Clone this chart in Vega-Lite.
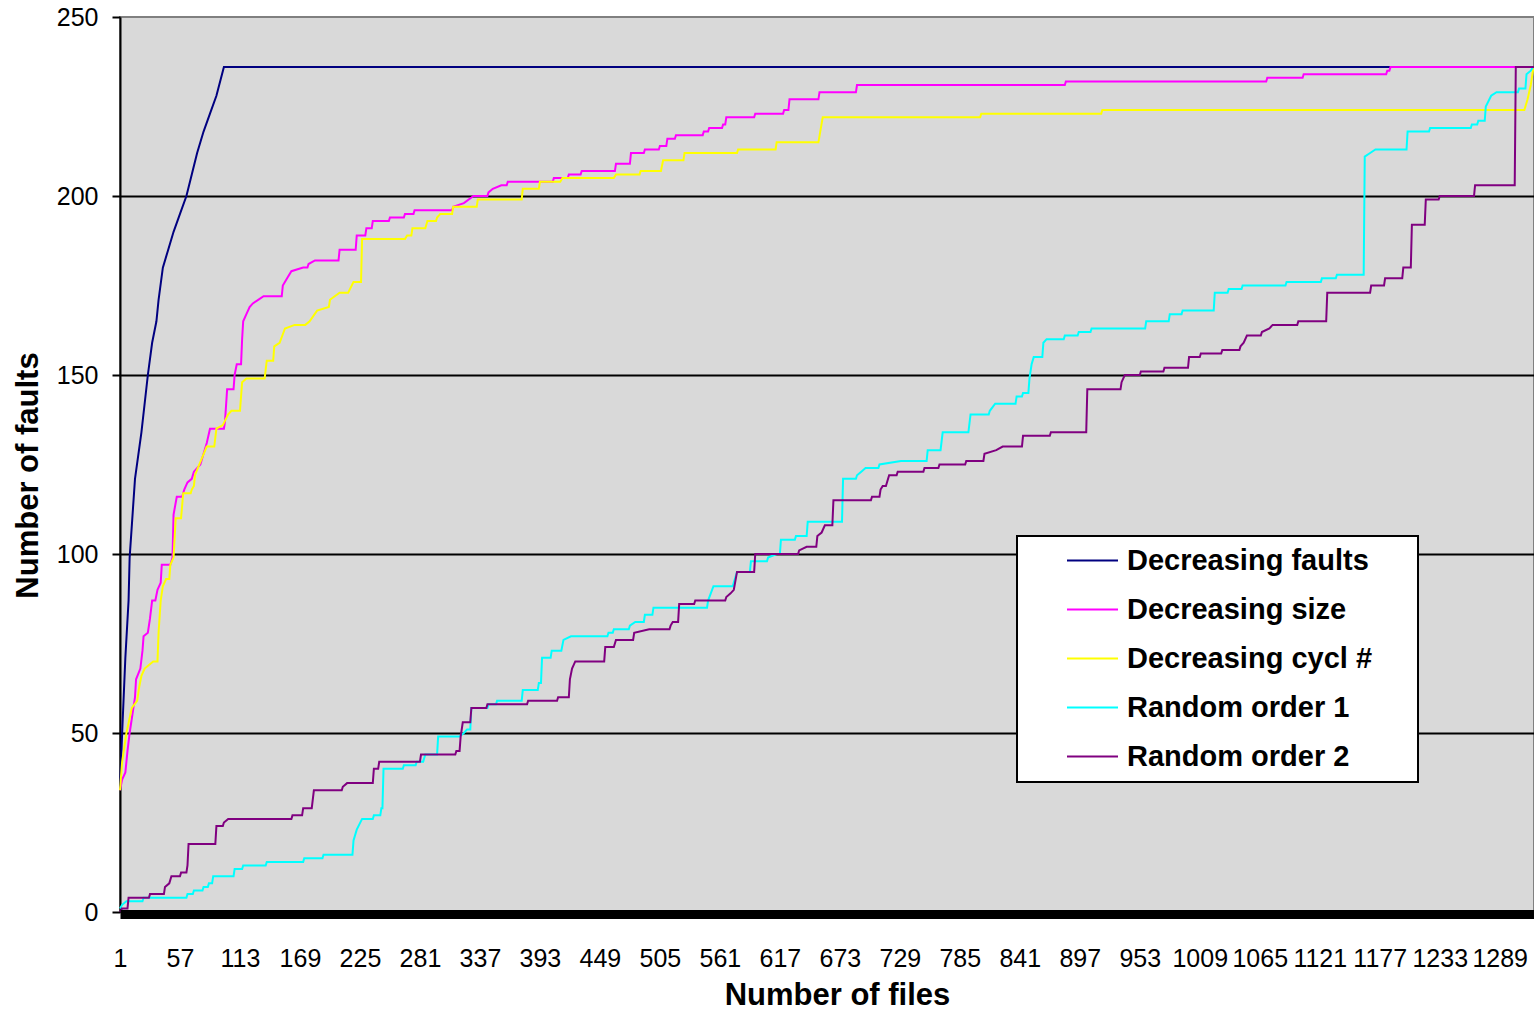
{
"$schema": "https://vega.github.io/schema/vega-lite/v6.json",
"width": 1414,
"height": 895,
"autosize": {"type": "none"},
"padding": {"left": 120, "top": 17, "right": 0, "bottom": 100},
"background": "white",
"datasets": {
"pts": [
{"series":"Decreasing faults","file":1,"faults":34},{"series":"Decreasing faults","file":2,"faults":42},{"series":"Decreasing faults","file":3,"faults":50},{"series":"Decreasing faults","file":6,"faults":71},{"series":"Decreasing faults","file":9,"faults":87},{"series":"Decreasing faults","file":10,"faults":99},{"series":"Decreasing faults","file":15,"faults":121},{"series":"Decreasing faults","file":21,"faults":134},{"series":"Decreasing faults","file":27,"faults":150},{"series":"Decreasing faults","file":31,"faults":159},{"series":"Decreasing faults","file":35,"faults":165},{"series":"Decreasing faults","file":37,"faults":171},{"series":"Decreasing faults","file":41,"faults":180},{"series":"Decreasing faults","file":46,"faults":185},{"series":"Decreasing faults","file":51,"faults":190},{"series":"Decreasing faults","file":57,"faults":195},{"series":"Decreasing faults","file":63,"faults":200},{"series":"Decreasing faults","file":68,"faults":206},{"series":"Decreasing faults","file":73,"faults":212},{"series":"Decreasing faults","file":79,"faults":218},{"series":"Decreasing faults","file":85,"faults":223},{"series":"Decreasing faults","file":91,"faults":228},{"series":"Decreasing faults","file":98,"faults":236},{"series":"Decreasing faults","file":1321,"faults":236},
{"series":"Decreasing size","file":1,"faults":34},{"series":"Decreasing size","file":3,"faults":37},{"series":"Decreasing size","file":6,"faults":39},{"series":"Decreasing size","file":8,"faults":45},{"series":"Decreasing size","file":10,"faults":50},{"series":"Decreasing size","file":13,"faults":56},{"series":"Decreasing size","file":15,"faults":60},{"series":"Decreasing size","file":16,"faults":65},{"series":"Decreasing size","file":20,"faults":68},{"series":"Decreasing size","file":22,"faults":73},{"series":"Decreasing size","file":23,"faults":77},{"series":"Decreasing size","file":27,"faults":78},{"series":"Decreasing size","file":29,"faults":82},{"series":"Decreasing size","file":31,"faults":87},{"series":"Decreasing size","file":34,"faults":87},{"series":"Decreasing size","file":36,"faults":90},{"series":"Decreasing size","file":39,"faults":92},{"series":"Decreasing size","file":40,"faults":97},{"series":"Decreasing size","file":48,"faults":97},{"series":"Decreasing size","file":50,"faults":99},{"series":"Decreasing size","file":51,"faults":111},{"series":"Decreasing size","file":54,"faults":116},{"series":"Decreasing size","file":59,"faults":116},{"series":"Decreasing size","file":61,"faults":118},{"series":"Decreasing size","file":64,"faults":120},{"series":"Decreasing size","file":68,"faults":121},{"series":"Decreasing size","file":70,"faults":123},{"series":"Decreasing size","file":73,"faults":124},{"series":"Decreasing size","file":76,"faults":125},{"series":"Decreasing size","file":79,"faults":128},{"series":"Decreasing size","file":82,"faults":131},{"series":"Decreasing size","file":85,"faults":135},{"series":"Decreasing size","file":98,"faults":135},{"series":"Decreasing size","file":99,"faults":137},{"series":"Decreasing size","file":101,"faults":146},{"series":"Decreasing size","file":107,"faults":146},{"series":"Decreasing size","file":108,"faults":150},{"series":"Decreasing size","file":110,"faults":153},{"series":"Decreasing size","file":114,"faults":153},{"series":"Decreasing size","file":115,"faults":160},{"series":"Decreasing size","file":116,"faults":165},{"series":"Decreasing size","file":119,"faults":167},{"series":"Decreasing size","file":122,"faults":169},{"series":"Decreasing size","file":125,"faults":170},{"series":"Decreasing size","file":130,"faults":171},{"series":"Decreasing size","file":135,"faults":172},{"series":"Decreasing size","file":152,"faults":172},{"series":"Decreasing size","file":153,"faults":175},{"series":"Decreasing size","file":157,"faults":177},{"series":"Decreasing size","file":161,"faults":179},{"series":"Decreasing size","file":172,"faults":180},{"series":"Decreasing size","file":176,"faults":180},{"series":"Decreasing size","file":177,"faults":181},{"series":"Decreasing size","file":183,"faults":182},{"series":"Decreasing size","file":205,"faults":182},{"series":"Decreasing size","file":206,"faults":185},{"series":"Decreasing size","file":221,"faults":185},{"series":"Decreasing size","file":222,"faults":189},{"series":"Decreasing size","file":230,"faults":189},{"series":"Decreasing size","file":231,"faults":191},{"series":"Decreasing size","file":236,"faults":191},{"series":"Decreasing size","file":237,"faults":193},{"series":"Decreasing size","file":252,"faults":193},{"series":"Decreasing size","file":253,"faults":194},{"series":"Decreasing size","file":266,"faults":194},{"series":"Decreasing size","file":267,"faults":195},{"series":"Decreasing size","file":275,"faults":195},{"series":"Decreasing size","file":276,"faults":196},{"series":"Decreasing size","file":311,"faults":196},{"series":"Decreasing size","file":312,"faults":197},{"series":"Decreasing size","file":322,"faults":198},{"series":"Decreasing size","file":331,"faults":200},{"series":"Decreasing size","file":344,"faults":200},{"series":"Decreasing size","file":345,"faults":201},{"series":"Decreasing size","file":349,"faults":202},{"series":"Decreasing size","file":357,"faults":203},{"series":"Decreasing size","file":362,"faults":203},{"series":"Decreasing size","file":363,"faults":204},{"series":"Decreasing size","file":405,"faults":204},{"series":"Decreasing size","file":406,"faults":205},{"series":"Decreasing size","file":419,"faults":205},{"series":"Decreasing size","file":420,"faults":206},{"series":"Decreasing size","file":431,"faults":206},{"series":"Decreasing size","file":432,"faults":207},{"series":"Decreasing size","file":463,"faults":207},{"series":"Decreasing size","file":464,"faults":209},{"series":"Decreasing size","file":477,"faults":209},{"series":"Decreasing size","file":478,"faults":212},{"series":"Decreasing size","file":490,"faults":212},{"series":"Decreasing size","file":491,"faults":213},{"series":"Decreasing size","file":504,"faults":213},{"series":"Decreasing size","file":505,"faults":214},{"series":"Decreasing size","file":511,"faults":214},{"series":"Decreasing size","file":512,"faults":216},{"series":"Decreasing size","file":519,"faults":216},{"series":"Decreasing size","file":520,"faults":217},{"series":"Decreasing size","file":545,"faults":217},{"series":"Decreasing size","file":546,"faults":218},{"series":"Decreasing size","file":550,"faults":218},{"series":"Decreasing size","file":551,"faults":219},{"series":"Decreasing size","file":563,"faults":219},{"series":"Decreasing size","file":564,"faults":220},{"series":"Decreasing size","file":566,"faults":220},{"series":"Decreasing size","file":567,"faults":222},{"series":"Decreasing size","file":593,"faults":222},{"series":"Decreasing size","file":594,"faults":223},{"series":"Decreasing size","file":620,"faults":223},{"series":"Decreasing size","file":621,"faults":224},{"series":"Decreasing size","file":625,"faults":224},{"series":"Decreasing size","file":626,"faults":227},{"series":"Decreasing size","file":653,"faults":227},{"series":"Decreasing size","file":654,"faults":229},{"series":"Decreasing size","file":688,"faults":229},{"series":"Decreasing size","file":689,"faults":231},{"series":"Decreasing size","file":883,"faults":231},{"series":"Decreasing size","file":884,"faults":232},{"series":"Decreasing size","file":1071,"faults":232},{"series":"Decreasing size","file":1072,"faults":233},{"series":"Decreasing size","file":1105,"faults":233},{"series":"Decreasing size","file":1106,"faults":234},{"series":"Decreasing size","file":1183,"faults":234},{"series":"Decreasing size","file":1184,"faults":235},{"series":"Decreasing size","file":1186,"faults":235},{"series":"Decreasing size","file":1187,"faults":236},{"series":"Decreasing size","file":1321,"faults":236},
{"series":"Decreasing cycl #","file":1,"faults":34},{"series":"Decreasing cycl #","file":3,"faults":42},{"series":"Decreasing cycl #","file":7,"faults":50},{"series":"Decreasing cycl #","file":12,"faults":57},{"series":"Decreasing cycl #","file":17,"faults":59},{"series":"Decreasing cycl #","file":19,"faults":63},{"series":"Decreasing cycl #","file":21,"faults":66},{"series":"Decreasing cycl #","file":24,"faults":68},{"series":"Decreasing cycl #","file":32,"faults":70},{"series":"Decreasing cycl #","file":36,"faults":70},{"series":"Decreasing cycl #","file":37,"faults":78},{"series":"Decreasing cycl #","file":39,"faults":87},{"series":"Decreasing cycl #","file":41,"faults":91},{"series":"Decreasing cycl #","file":44,"faults":93},{"series":"Decreasing cycl #","file":47,"faults":93},{"series":"Decreasing cycl #","file":48,"faults":97},{"series":"Decreasing cycl #","file":51,"faults":99},{"series":"Decreasing cycl #","file":53,"faults":110},{"series":"Decreasing cycl #","file":58,"faults":110},{"series":"Decreasing cycl #","file":60,"faults":117},{"series":"Decreasing cycl #","file":67,"faults":117},{"series":"Decreasing cycl #","file":68,"faults":118},{"series":"Decreasing cycl #","file":70,"faults":119},{"series":"Decreasing cycl #","file":71,"faults":122},{"series":"Decreasing cycl #","file":75,"faults":125},{"series":"Decreasing cycl #","file":82,"faults":130},{"series":"Decreasing cycl #","file":89,"faults":130},{"series":"Decreasing cycl #","file":91,"faults":135},{"series":"Decreasing cycl #","file":97,"faults":136},{"series":"Decreasing cycl #","file":102,"faults":139},{"series":"Decreasing cycl #","file":105,"faults":140},{"series":"Decreasing cycl #","file":113,"faults":140},{"series":"Decreasing cycl #","file":115,"faults":148},{"series":"Decreasing cycl #","file":119,"faults":149},{"series":"Decreasing cycl #","file":136,"faults":149},{"series":"Decreasing cycl #","file":138,"faults":154},{"series":"Decreasing cycl #","file":144,"faults":154},{"series":"Decreasing cycl #","file":145,"faults":158},{"series":"Decreasing cycl #","file":150,"faults":159},{"series":"Decreasing cycl #","file":155,"faults":163},{"series":"Decreasing cycl #","file":164,"faults":164},{"series":"Decreasing cycl #","file":174,"faults":164},{"series":"Decreasing cycl #","file":178,"faults":165},{"series":"Decreasing cycl #","file":185,"faults":168},{"series":"Decreasing cycl #","file":196,"faults":169},{"series":"Decreasing cycl #","file":197,"faults":171},{"series":"Decreasing cycl #","file":206,"faults":173},{"series":"Decreasing cycl #","file":214,"faults":173},{"series":"Decreasing cycl #","file":219,"faults":176},{"series":"Decreasing cycl #","file":226,"faults":176},{"series":"Decreasing cycl #","file":227,"faults":188},{"series":"Decreasing cycl #","file":267,"faults":188},{"series":"Decreasing cycl #","file":269,"faults":189},{"series":"Decreasing cycl #","file":273,"faults":189},{"series":"Decreasing cycl #","file":274,"faults":191},{"series":"Decreasing cycl #","file":286,"faults":191},{"series":"Decreasing cycl #","file":288,"faults":193},{"series":"Decreasing cycl #","file":296,"faults":193},{"series":"Decreasing cycl #","file":297,"faults":194},{"series":"Decreasing cycl #","file":300,"faults":195},{"series":"Decreasing cycl #","file":311,"faults":195},{"series":"Decreasing cycl #","file":312,"faults":197},{"series":"Decreasing cycl #","file":334,"faults":197},{"series":"Decreasing cycl #","file":335,"faults":199},{"series":"Decreasing cycl #","file":376,"faults":199},{"series":"Decreasing cycl #","file":377,"faults":202},{"series":"Decreasing cycl #","file":392,"faults":202},{"series":"Decreasing cycl #","file":393,"faults":204},{"series":"Decreasing cycl #","file":412,"faults":204},{"series":"Decreasing cycl #","file":414,"faults":205},{"series":"Decreasing cycl #","file":462,"faults":205},{"series":"Decreasing cycl #","file":464,"faults":206},{"series":"Decreasing cycl #","file":486,"faults":206},{"series":"Decreasing cycl #","file":487,"faults":207},{"series":"Decreasing cycl #","file":506,"faults":207},{"series":"Decreasing cycl #","file":508,"faults":210},{"series":"Decreasing cycl #","file":527,"faults":210},{"series":"Decreasing cycl #","file":528,"faults":212},{"series":"Decreasing cycl #","file":577,"faults":212},{"series":"Decreasing cycl #","file":578,"faults":213},{"series":"Decreasing cycl #","file":613,"faults":213},{"series":"Decreasing cycl #","file":614,"faults":215},{"series":"Decreasing cycl #","file":653,"faults":215},{"series":"Decreasing cycl #","file":657,"faults":222},{"series":"Decreasing cycl #","file":804,"faults":222},{"series":"Decreasing cycl #","file":805,"faults":223},{"series":"Decreasing cycl #","file":917,"faults":223},{"series":"Decreasing cycl #","file":918,"faults":224},{"series":"Decreasing cycl #","file":1312,"faults":224},{"series":"Decreasing cycl #","file":1315,"faults":227},{"series":"Decreasing cycl #","file":1318,"faults":231},{"series":"Decreasing cycl #","file":1320,"faults":235},{"series":"Decreasing cycl #","file":1321,"faults":236},
{"series":"Random order 1","file":1,"faults":1},{"series":"Random order 1","file":3,"faults":2},{"series":"Random order 1","file":7,"faults":3},{"series":"Random order 1","file":22,"faults":3},{"series":"Random order 1","file":23,"faults":4},{"series":"Random order 1","file":63,"faults":4},{"series":"Random order 1","file":64,"faults":5},{"series":"Random order 1","file":69,"faults":5},{"series":"Random order 1","file":70,"faults":6},{"series":"Random order 1","file":78,"faults":6},{"series":"Random order 1","file":79,"faults":7},{"series":"Random order 1","file":83,"faults":7},{"series":"Random order 1","file":84,"faults":8},{"series":"Random order 1","file":87,"faults":8},{"series":"Random order 1","file":88,"faults":10},{"series":"Random order 1","file":107,"faults":10},{"series":"Random order 1","file":108,"faults":12},{"series":"Random order 1","file":115,"faults":12},{"series":"Random order 1","file":116,"faults":13},{"series":"Random order 1","file":137,"faults":13},{"series":"Random order 1","file":138,"faults":14},{"series":"Random order 1","file":172,"faults":14},{"series":"Random order 1","file":173,"faults":15},{"series":"Random order 1","file":190,"faults":15},{"series":"Random order 1","file":191,"faults":16},{"series":"Random order 1","file":218,"faults":16},{"series":"Random order 1","file":219,"faults":20},{"series":"Random order 1","file":222,"faults":23},{"series":"Random order 1","file":227,"faults":26},{"series":"Random order 1","file":237,"faults":26},{"series":"Random order 1","file":238,"faults":27},{"series":"Random order 1","file":244,"faults":27},{"series":"Random order 1","file":245,"faults":29},{"series":"Random order 1","file":246,"faults":29},{"series":"Random order 1","file":247,"faults":40},{"series":"Random order 1","file":265,"faults":40},{"series":"Random order 1","file":266,"faults":41},{"series":"Random order 1","file":277,"faults":41},{"series":"Random order 1","file":278,"faults":42},{"series":"Random order 1","file":284,"faults":42},{"series":"Random order 1","file":286,"faults":44},{"series":"Random order 1","file":297,"faults":44},{"series":"Random order 1","file":298,"faults":49},{"series":"Random order 1","file":318,"faults":49},{"series":"Random order 1","file":322,"faults":50},{"series":"Random order 1","file":325,"faults":51},{"series":"Random order 1","file":328,"faults":51},{"series":"Random order 1","file":329,"faults":57},{"series":"Random order 1","file":344,"faults":57},{"series":"Random order 1","file":345,"faults":58},{"series":"Random order 1","file":352,"faults":58},{"series":"Random order 1","file":353,"faults":59},{"series":"Random order 1","file":376,"faults":59},{"series":"Random order 1","file":377,"faults":62},{"series":"Random order 1","file":391,"faults":62},{"series":"Random order 1","file":392,"faults":64},{"series":"Random order 1","file":394,"faults":64},{"series":"Random order 1","file":395,"faults":71},{"series":"Random order 1","file":403,"faults":71},{"series":"Random order 1","file":404,"faults":73},{"series":"Random order 1","file":413,"faults":73},{"series":"Random order 1","file":415,"faults":76},{"series":"Random order 1","file":422,"faults":77},{"series":"Random order 1","file":456,"faults":77},{"series":"Random order 1","file":457,"faults":78},{"series":"Random order 1","file":461,"faults":78},{"series":"Random order 1","file":462,"faults":79},{"series":"Random order 1","file":476,"faults":79},{"series":"Random order 1","file":477,"faults":80},{"series":"Random order 1","file":482,"faults":81},{"series":"Random order 1","file":490,"faults":81},{"series":"Random order 1","file":491,"faults":83},{"series":"Random order 1","file":498,"faults":83},{"series":"Random order 1","file":499,"faults":85},{"series":"Random order 1","file":549,"faults":85},{"series":"Random order 1","file":550,"faults":87},{"series":"Random order 1","file":555,"faults":91},{"series":"Random order 1","file":573,"faults":91},{"series":"Random order 1","file":574,"faults":92},{"series":"Random order 1","file":577,"faults":95},{"series":"Random order 1","file":589,"faults":95},{"series":"Random order 1","file":590,"faults":98},{"series":"Random order 1","file":605,"faults":98},{"series":"Random order 1","file":606,"faults":99},{"series":"Random order 1","file":614,"faults":100},{"series":"Random order 1","file":617,"faults":100},{"series":"Random order 1","file":618,"faults":104},{"series":"Random order 1","file":631,"faults":104},{"series":"Random order 1","file":632,"faults":105},{"series":"Random order 1","file":642,"faults":105},{"series":"Random order 1","file":643,"faults":109},{"series":"Random order 1","file":675,"faults":109},{"series":"Random order 1","file":676,"faults":121},{"series":"Random order 1","file":688,"faults":121},{"series":"Random order 1","file":689,"faults":122},{"series":"Random order 1","file":693,"faults":123},{"series":"Random order 1","file":697,"faults":124},{"series":"Random order 1","file":709,"faults":124},{"series":"Random order 1","file":710,"faults":125},{"series":"Random order 1","file":730,"faults":126},{"series":"Random order 1","file":754,"faults":126},{"series":"Random order 1","file":755,"faults":129},{"series":"Random order 1","file":767,"faults":129},{"series":"Random order 1","file":769,"faults":134},{"series":"Random order 1","file":793,"faults":134},{"series":"Random order 1","file":795,"faults":139},{"series":"Random order 1","file":812,"faults":139},{"series":"Random order 1","file":813,"faults":140},{"series":"Random order 1","file":818,"faults":142},{"series":"Random order 1","file":837,"faults":142},{"series":"Random order 1","file":838,"faults":144},{"series":"Random order 1","file":843,"faults":144},{"series":"Random order 1","file":844,"faults":145},{"series":"Random order 1","file":849,"faults":145},{"series":"Random order 1","file":850,"faults":149},{"series":"Random order 1","file":852,"faults":153},{"series":"Random order 1","file":854,"faults":155},{"series":"Random order 1","file":862,"faults":155},{"series":"Random order 1","file":863,"faults":159},{"series":"Random order 1","file":866,"faults":160},{"series":"Random order 1","file":882,"faults":160},{"series":"Random order 1","file":883,"faults":161},{"series":"Random order 1","file":895,"faults":161},{"series":"Random order 1","file":896,"faults":162},{"series":"Random order 1","file":907,"faults":162},{"series":"Random order 1","file":908,"faults":163},{"series":"Random order 1","file":958,"faults":163},{"series":"Random order 1","file":959,"faults":165},{"series":"Random order 1","file":980,"faults":165},{"series":"Random order 1","file":981,"faults":167},{"series":"Random order 1","file":992,"faults":167},{"series":"Random order 1","file":993,"faults":168},{"series":"Random order 1","file":1022,"faults":168},{"series":"Random order 1","file":1023,"faults":173},{"series":"Random order 1","file":1035,"faults":173},{"series":"Random order 1","file":1036,"faults":174},{"series":"Random order 1","file":1048,"faults":174},{"series":"Random order 1","file":1049,"faults":175},{"series":"Random order 1","file":1089,"faults":175},{"series":"Random order 1","file":1090,"faults":176},{"series":"Random order 1","file":1122,"faults":176},{"series":"Random order 1","file":1123,"faults":177},{"series":"Random order 1","file":1136,"faults":177},{"series":"Random order 1","file":1137,"faults":178},{"series":"Random order 1","file":1162,"faults":178},{"series":"Random order 1","file":1163,"faults":211},{"series":"Random order 1","file":1168,"faults":212},{"series":"Random order 1","file":1173,"faults":213},{"series":"Random order 1","file":1202,"faults":213},{"series":"Random order 1","file":1203,"faults":218},{"series":"Random order 1","file":1223,"faults":218},{"series":"Random order 1","file":1224,"faults":219},{"series":"Random order 1","file":1262,"faults":219},{"series":"Random order 1","file":1263,"faults":220},{"series":"Random order 1","file":1268,"faults":220},{"series":"Random order 1","file":1269,"faults":221},{"series":"Random order 1","file":1275,"faults":221},{"series":"Random order 1","file":1276,"faults":225},{"series":"Random order 1","file":1281,"faults":228},{"series":"Random order 1","file":1286,"faults":229},{"series":"Random order 1","file":1306,"faults":229},{"series":"Random order 1","file":1307,"faults":230},{"series":"Random order 1","file":1313,"faults":230},{"series":"Random order 1","file":1314,"faults":234},{"series":"Random order 1","file":1318,"faults":235},{"series":"Random order 1","file":1320,"faults":236},{"series":"Random order 1","file":1321,"faults":236},
{"series":"Random order 2","file":1,"faults":0},{"series":"Random order 2","file":3,"faults":1},{"series":"Random order 2","file":8,"faults":1},{"series":"Random order 2","file":9,"faults":4},{"series":"Random order 2","file":28,"faults":4},{"series":"Random order 2","file":29,"faults":5},{"series":"Random order 2","file":42,"faults":5},{"series":"Random order 2","file":43,"faults":7},{"series":"Random order 2","file":47,"faults":8},{"series":"Random order 2","file":49,"faults":10},{"series":"Random order 2","file":57,"faults":10},{"series":"Random order 2","file":58,"faults":11},{"series":"Random order 2","file":63,"faults":11},{"series":"Random order 2","file":64,"faults":13},{"series":"Random order 2","file":65,"faults":19},{"series":"Random order 2","file":90,"faults":19},{"series":"Random order 2","file":91,"faults":24},{"series":"Random order 2","file":97,"faults":24},{"series":"Random order 2","file":98,"faults":25},{"series":"Random order 2","file":102,"faults":26},{"series":"Random order 2","file":161,"faults":26},{"series":"Random order 2","file":162,"faults":27},{"series":"Random order 2","file":171,"faults":27},{"series":"Random order 2","file":172,"faults":29},{"series":"Random order 2","file":180,"faults":29},{"series":"Random order 2","file":182,"faults":34},{"series":"Random order 2","file":208,"faults":34},{"series":"Random order 2","file":209,"faults":35},{"series":"Random order 2","file":213,"faults":36},{"series":"Random order 2","file":237,"faults":36},{"series":"Random order 2","file":238,"faults":40},{"series":"Random order 2","file":242,"faults":40},{"series":"Random order 2","file":243,"faults":42},{"series":"Random order 2","file":281,"faults":42},{"series":"Random order 2","file":282,"faults":44},{"series":"Random order 2","file":314,"faults":44},{"series":"Random order 2","file":315,"faults":45},{"series":"Random order 2","file":318,"faults":45},{"series":"Random order 2","file":319,"faults":49},{"series":"Random order 2","file":321,"faults":53},{"series":"Random order 2","file":328,"faults":53},{"series":"Random order 2","file":329,"faults":57},{"series":"Random order 2","file":343,"faults":57},{"series":"Random order 2","file":344,"faults":58},{"series":"Random order 2","file":381,"faults":58},{"series":"Random order 2","file":382,"faults":59},{"series":"Random order 2","file":409,"faults":59},{"series":"Random order 2","file":410,"faults":60},{"series":"Random order 2","file":420,"faults":60},{"series":"Random order 2","file":421,"faults":65},{"series":"Random order 2","file":423,"faults":68},{"series":"Random order 2","file":426,"faults":70},{"series":"Random order 2","file":453,"faults":70},{"series":"Random order 2","file":454,"faults":74},{"series":"Random order 2","file":462,"faults":74},{"series":"Random order 2","file":464,"faults":76},{"series":"Random order 2","file":480,"faults":76},{"series":"Random order 2","file":481,"faults":78},{"series":"Random order 2","file":495,"faults":79},{"series":"Random order 2","file":514,"faults":79},{"series":"Random order 2","file":515,"faults":80},{"series":"Random order 2","file":517,"faults":81},{"series":"Random order 2","file":522,"faults":81},{"series":"Random order 2","file":523,"faults":86},{"series":"Random order 2","file":537,"faults":86},{"series":"Random order 2","file":538,"faults":87},{"series":"Random order 2","file":566,"faults":87},{"series":"Random order 2","file":567,"faults":88},{"series":"Random order 2","file":571,"faults":89},{"series":"Random order 2","file":574,"faults":90},{"series":"Random order 2","file":577,"faults":95},{"series":"Random order 2","file":593,"faults":95},{"series":"Random order 2","file":594,"faults":100},{"series":"Random order 2","file":634,"faults":100},{"series":"Random order 2","file":635,"faults":101},{"series":"Random order 2","file":642,"faults":102},{"series":"Random order 2","file":651,"faults":102},{"series":"Random order 2","file":652,"faults":105},{"series":"Random order 2","file":656,"faults":106},{"series":"Random order 2","file":659,"faults":108},{"series":"Random order 2","file":666,"faults":108},{"series":"Random order 2","file":667,"faults":115},{"series":"Random order 2","file":702,"faults":115},{"series":"Random order 2","file":703,"faults":116},{"series":"Random order 2","file":710,"faults":116},{"series":"Random order 2","file":711,"faults":118},{"series":"Random order 2","file":713,"faults":119},{"series":"Random order 2","file":716,"faults":119},{"series":"Random order 2","file":719,"faults":122},{"series":"Random order 2","file":726,"faults":122},{"series":"Random order 2","file":727,"faults":123},{"series":"Random order 2","file":751,"faults":123},{"series":"Random order 2","file":752,"faults":124},{"series":"Random order 2","file":765,"faults":124},{"series":"Random order 2","file":766,"faults":125},{"series":"Random order 2","file":790,"faults":125},{"series":"Random order 2","file":791,"faults":126},{"series":"Random order 2","file":807,"faults":126},{"series":"Random order 2","file":808,"faults":128},{"series":"Random order 2","file":819,"faults":129},{"series":"Random order 2","file":825,"faults":130},{"series":"Random order 2","file":843,"faults":130},{"series":"Random order 2","file":844,"faults":133},{"series":"Random order 2","file":869,"faults":133},{"series":"Random order 2","file":870,"faults":134},{"series":"Random order 2","file":903,"faults":134},{"series":"Random order 2","file":904,"faults":146},{"series":"Random order 2","file":935,"faults":146},{"series":"Random order 2","file":936,"faults":148},{"series":"Random order 2","file":939,"faults":150},{"series":"Random order 2","file":953,"faults":150},{"series":"Random order 2","file":954,"faults":151},{"series":"Random order 2","file":975,"faults":151},{"series":"Random order 2","file":976,"faults":152},{"series":"Random order 2","file":998,"faults":152},{"series":"Random order 2","file":999,"faults":155},{"series":"Random order 2","file":1009,"faults":155},{"series":"Random order 2","file":1010,"faults":156},{"series":"Random order 2","file":1029,"faults":156},{"series":"Random order 2","file":1030,"faults":157},{"series":"Random order 2","file":1046,"faults":157},{"series":"Random order 2","file":1047,"faults":158},{"series":"Random order 2","file":1050,"faults":159},{"series":"Random order 2","file":1053,"faults":161},{"series":"Random order 2","file":1066,"faults":161},{"series":"Random order 2","file":1067,"faults":162},{"series":"Random order 2","file":1074,"faults":163},{"series":"Random order 2","file":1077,"faults":164},{"series":"Random order 2","file":1100,"faults":164},{"series":"Random order 2","file":1101,"faults":165},{"series":"Random order 2","file":1127,"faults":165},{"series":"Random order 2","file":1128,"faults":173},{"series":"Random order 2","file":1168,"faults":173},{"series":"Random order 2","file":1169,"faults":175},{"series":"Random order 2","file":1181,"faults":175},{"series":"Random order 2","file":1182,"faults":177},{"series":"Random order 2","file":1198,"faults":177},{"series":"Random order 2","file":1199,"faults":180},{"series":"Random order 2","file":1206,"faults":180},{"series":"Random order 2","file":1207,"faults":192},{"series":"Random order 2","file":1219,"faults":192},{"series":"Random order 2","file":1220,"faults":199},{"series":"Random order 2","file":1232,"faults":199},{"series":"Random order 2","file":1233,"faults":200},{"series":"Random order 2","file":1265,"faults":200},{"series":"Random order 2","file":1266,"faults":203},{"series":"Random order 2","file":1303,"faults":203},{"series":"Random order 2","file":1304,"faults":236},{"series":"Random order 2","file":1321,"faults":236}
]
},
"data": {"name": "pts"},
"mark": {"type": "line", "strokeWidth": 2, "interpolate": "linear"},
"encoding": {
"x": {"field": "file", "type": "quantitative",
 "scale": {"domain": [1, 1321], "nice": false, "zero": false},
 "axis": {"title": "Number of files", "format": "d", "values": [1,57,113,169,225,281,337,393,449,505,561,617,673,729,785,841,897,953,1009,1065,1121,1177,1233,1289],
  "grid": false, "offset": 2, "domain": true, "domainColor": "black", "domainWidth": 9, "ticks": true, "tickSize": 0, "tickColor": "black",
  "labelFontSize": 25, "labelBaseline": "alphabetic", "labelPadding": 52, "labelColor": "black", "labelFlush": false, "labelOverlap": false, "zindex": 1,
  "titleFontSize": 31, "titleFontWeight": "bold", "titleColor": "black", "titleX": 717, "titleY": 90, "titleBaseline": "alphabetic", "titleAlign": "center"}},
"y": {"field": "faults", "type": "quantitative",
 "scale": {"domain": [0, 250], "nice": false},
 "axis": {"title": "Number of faults", "values": [0,50,100,150,200,250],
  "grid": true, "gridColor": {"condition": {"test": "datum.value === 250 || datum.value === 0", "value": "transparent"}, "value": "black"}, "gridWidth": 2,
  "domain": true, "domainColor": "black", "domainWidth": 2, "ticks": true, "tickSize": 8, "tickWidth": 2, "tickColor": "black",
  "labelFontSize": 25, "labelPadding": 14, "labelColor": "black",
  "titleFontSize": 31, "titleFontWeight": "bold", "titleColor": "black", "titleX": -83, "titleY": 458, "titleAngle": 270, "titleBaseline": "alphabetic", "titleAlign": "center"}},
"color": {"field": "series", "type": "nominal",
 "scale": {"domain": ["Decreasing faults", "Decreasing size", "Decreasing cycl #", "Random order 1", "Random order 2"],
  "range": ["#000080", "#FF00FF", "#FFFF00", "#00FFFF", "#800080"]},
 "legend": {"title": null,
  "orient": "none", "legendX": 897, "legendY": 519,
  "fillColor": "white", "strokeColor": "black", "padding": 10,
  "symbolType": "stroke", "symbolSize": 2601, "symbolStrokeWidth": 2, "symbolOffset": 39, "clipHeight": 29,
  "labelFontSize": 29, "labelFontWeight": "bold", "labelColor": "black", "labelLimit": 500, "labelOffset": 8, "rowPadding": 19,
  "encode": {"legend": {"update": {"strokeWidth": {"value": 2}}}, "entries": {"update": {"width": {"value": 381}}}}}}
},
"config": {
 "font": "Liberation Sans",
 "view": {"fill": "#d9d9d9", "stroke": "#808080", "strokeWidth": 2}
}
}
